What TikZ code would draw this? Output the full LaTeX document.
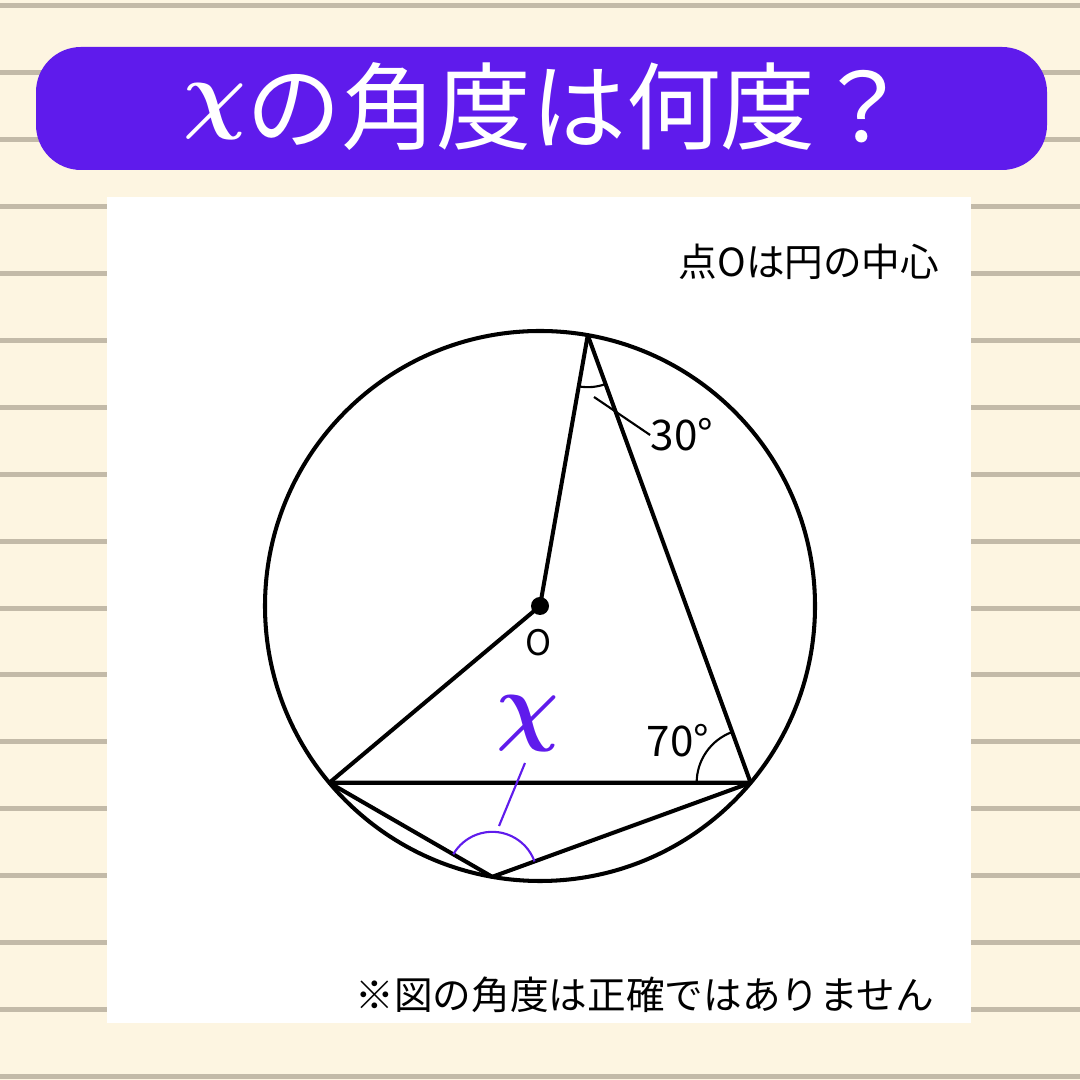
\documentclass[tikz,border=0pt]{standalone}
\usepackage{fontspec}
\setmainfont{Noto Sans CJK JP}
\usetikzlibrary{angles}
\definecolor{paper}{HTML}{FDF5E1}
\definecolor{ruleline}{HTML}{C3BAA8}
\definecolor{quizpurple}{HTML}{5F1BEC}
\begin{document}
\begin{tikzpicture}[line join=round,
    edge/.style = {line width=1.15pt},
    anglemark/.style = {draw, line width=0.6pt},
    lbl/.style = {inner sep=0pt,
        font=\fontsize{12}{14}\selectfont},
    note/.style = {anchor=east, inner sep=0pt,
        font=\fontsize{11}{13}\selectfont}]
\useasboundingbox (0,0) rectangle (10.8,10.8);

% Lined paper
\fill[paper] (0,0) rectangle (10.8,10.8);
\foreach \k in {0,...,16}
    \draw[ruleline, line width=0.05cm] (0,{10.74-0.669*\k}) -- (10.8,{10.74-0.669*\k});

% Title
\fill[quizpurple, rounded corners=0.45cm] (0.36,9.10) rectangle (10.47,10.33);
\node[anchor=base west, inner sep=0pt, text=white,
    font=\fontsize{27}{30}\selectfont] (title) at (1.83,9.37)
    {\raisebox{0.2cm}{\fontsize{36}{40}\selectfont\boldmath$\chi$}の角度は何度？};

% Panel
\fill[white] (1.07,0.57) rectangle (9.71,8.83);

% Circle and points
\coordinate (O) at (5.40,4.74);
\draw[edge] (O) circle (2.75);
\path (O) ++(80:2.75) coordinate (A);
\path (O) ++(220:2.75) coordinate (B);
\path (O) ++(320:2.75) coordinate (C);
\path (O) ++(260:2.75) coordinate (D);

% Segments
\draw[edge] (A) -- (O) -- (B);
\draw[edge] (A) -- (C) -- (B) -- (D) -- (C);
\node[circle, fill, inner sep=0pt, minimum size=0.18cm] (dot) at (O) {};

% Angles
\pic[anglemark, angle radius=0.52cm] {angle = O--A--C};
\pic[anglemark, angle radius=0.54cm] {angle = A--C--B};
\pic[anglemark, draw=quizpurple, angle radius=0.45cm] {angle = C--D--B};

% Labels
\node[lbl] (l30) at (6.82,6.45) {30°};
\coordinate (t30) at (5.94,6.83);
\draw[line width=0.6pt] (t30) -- (l30.west);
\node[lbl] (l70) at (6.78,3.39) {70°};
\node[inner sep=0pt, font=\fontsize{10}{12}\selectfont] (lO) at (5.39,4.37) {O};
\node[inner sep=0pt, text=quizpurple] (lx) at (5.28,3.56)
    {{\fontsize{27}{30}\selectfont\boldmath$\chi$}};
\coordinate (tx) at (4.99,2.54);
\coordinate (xtop) at (5.25,3.17);
\draw[quizpurple, line width=0.6pt] (tx) -- (xtop);

% Notes
\node[note] (center) at (9.40,8.18) {点Oは円の中心};
\node[note] (warn) at (9.35,0.85) {※図の角度は正確ではありません};
\end{tikzpicture}
\end{document}
